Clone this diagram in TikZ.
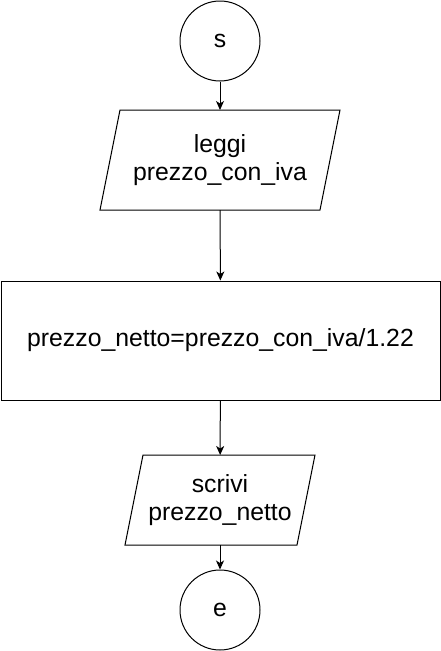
\documentclass[tikz,border=0pt]{standalone}
\usepackage{fontspec}
\setmainfont{Liberation Sans}
\usetikzlibrary{arrows.meta}

\tikzset{
  inizio/.style={draw, circle, line width=1pt, minimum size=80pt, inner sep=0pt},
  blocco/.style={draw, rectangle, line width=1pt, minimum width=439pt, minimum height=119pt},
  ingresso/.style={align=center, inner sep=0pt, outer sep=0pt},
  freccia/.style={line width=1pt, -{Stealth[length=9pt,width=8pt,inset=2.5pt]}}
}

\begin{document}
\begin{tikzpicture}[x=1pt,y=-1pt]
\useasboundingbox (0,0) rectangle (441,651);
\fontsize{24.8}{28}\selectfont

\node[inizio] (s) at (220,41) {s};

\node[ingresso, minimum width=220pt, minimum height=100pt] (in1) at (220,160) {leggi\\prezzo\_con\_iva};
\draw[line width=1pt] ([xshift=10pt]in1.north west) -- ([xshift=10pt]in1.north east)
  -- ([xshift=-10pt]in1.south east) -- ([xshift=-10pt]in1.south west) -- cycle;

\node[blocco] (calc) at (220.5,340.5) {prezzo\_netto=prezzo\_con\_iva/1.22};

\node[ingresso, minimum width=172pt, minimum height=90pt] (out1) at (220,500) {scrivi\\prezzo\_netto};
\draw[line width=1pt] ([xshift=9pt]out1.north west) -- ([xshift=9pt]out1.north east)
  -- ([xshift=-9pt]out1.south east) -- ([xshift=-9pt]out1.south west) -- cycle;

\node[inizio] (e) at (220,610) {e};

\draw[freccia] (s) -- (in1);
\draw[freccia] (in1) -- (calc);
\draw[freccia] (calc) -- (out1);
\draw[freccia] (out1) -- (e);
\end{tikzpicture}
\end{document}
